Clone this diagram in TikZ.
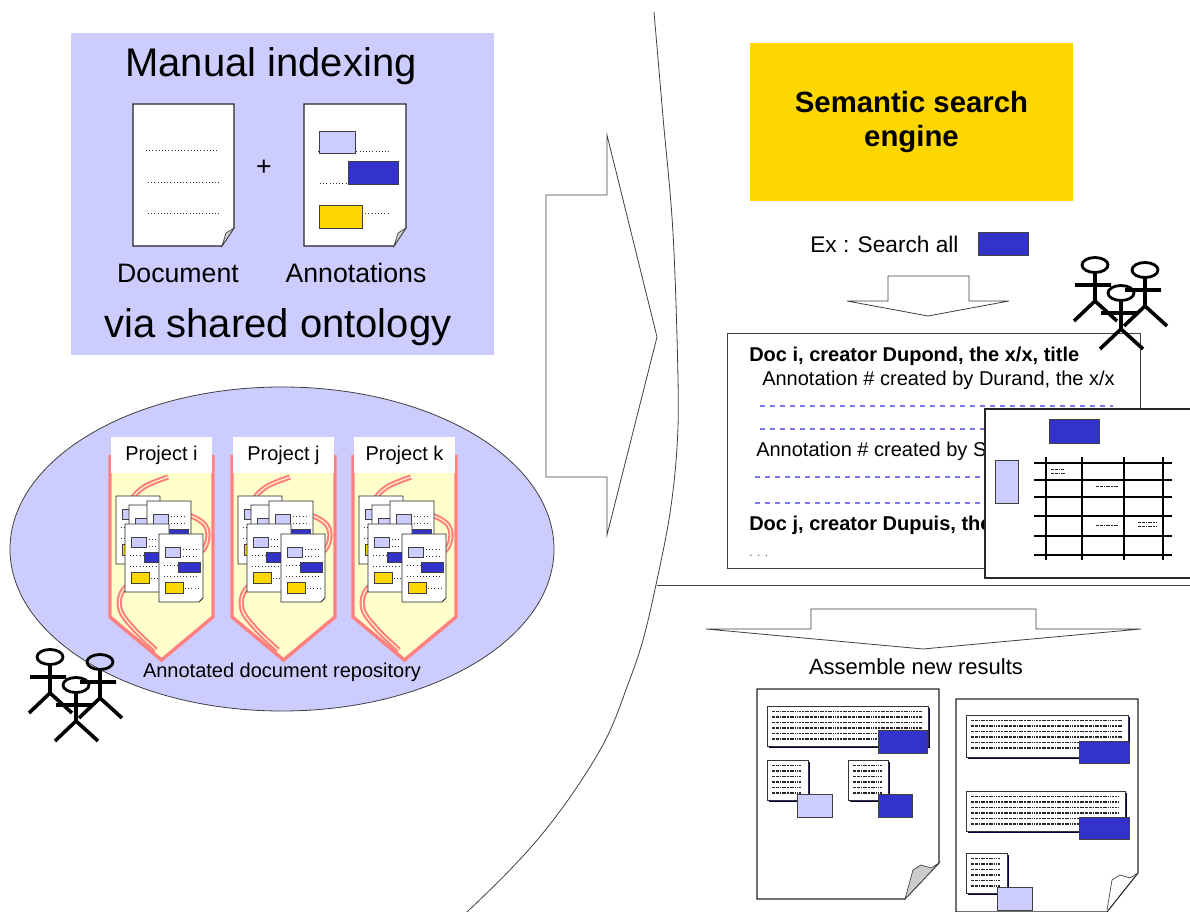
\documentclass[tikz,border=0pt]{standalone}
\usepackage{fontspec}
\setmainfont{Liberation Sans}

\definecolor{lavender}{HTML}{CCCCFF}
\definecolor{annoblue}{HTML}{3333CC}
\definecolor{annogold}{HTML}{FFD700}
\definecolor{bmyellow}{HTML}{FFFFCC}
\definecolor{salmon}{HTML}{FF8080}
\definecolor{dashblue}{HTML}{7777EE}
\definecolor{shadownavy}{HTML}{000044}

\tikzset{
  outline/.style={draw=black!75, line width=0.6pt},
  page/.style={fill=white, draw=black!85, line width=0.8pt},
  lavrect/.style={fill=lavender, draw=black!75, line width=0.6pt},
  bluerect/.style={fill=annoblue, draw=black!75, line width=0.6pt},
  goldrect/.style={fill=annogold, draw=black!75, line width=0.6pt},
  dotline/.style={dotted, line width=0.4pt, black!80},
  scribble/.style={black!85, line width=1.1pt, dash pattern=on 1.2pt off 0.6pt on 0.5pt off 0.6pt on 2pt off 0.8pt},
  stick/.style={black, line width=2.7pt},
  ribbon/.style={draw=salmon, double=bmyellow, double distance=0.8pt, line width=1.6pt},
  hitline/.style={dashblue, line width=0.8pt, dash pattern=on 4pt off 3.5pt},
  tabline/.style={black, line width=0.8pt},
  lbl/.style={inner sep=0pt, text=black},
}

% one stick figure, head centre at (#1,#2)
\newcommand{\stickman}[2]{%
  \begin{scope}[shift={(#1,#2)}]
    \draw[black, line width=2.1pt] (0,0) ellipse [x radius=13, y radius=7.5];
    \draw[stick] (0,7.5) -- (0,36) (-20,20) -- (16,20) (-21,56) -- (0,36) -- (22,56);
  \end{scope}}
\newcommand{\crowd}[2]{%
  \begin{scope}[shift={(#1,#2)}]
    \stickman{0}{0}\stickman{50}{5}\stickman{26}{28}
  \end{scope}}

% small annotated page, top left corner at (#1,#2)
\newcommand{\minidoc}[2]{%
  \begin{scope}[shift={(#1,#2)}]
    \draw[page, line width=0.6pt] (0,0) -- (44,0) -- (44,64) -- (40,68) -- (0,68) -- cycle;
    \draw[dotline] (24,15) -- (40,15) (24,22) -- (40,22) (5,31) -- (18,31) (5,42) -- (40,42) (26,54) -- (40,54);
    \draw[lavrect, line width=0.5pt] (6,13) rectangle (21,23);
    \draw[bluerect, line width=0.5pt] (19,28) rectangle (41,38);
    \draw[goldrect, line width=0.5pt] (6,48) rectangle (24,59);
  \end{scope}}

% project tab: left edge #1, label #2, node name #3
\newcommand{\projtab}[3]{%
  \begin{scope}[shift={(#1,437)}]
    \fill[bmyellow] (0,18) -- (0,180) -- (51.5,223) -- (103,180) -- (103,18) -- cycle;
    \draw[salmon, line width=2.6pt] (0,18) -- (0,180) -- (51.5,223) -- (103,180) -- (103,18);
    \draw[ribbon] plot[smooth, tension=0.6] coordinates {(58,40) (34,50) (22,64) (32,78) (70,76) (95,88)
      (96,108) (80,122) (40,135) (14,152) (10,172) (24,192) (46,213)};
    \fill[white] (1.3,0) rectangle (101.7,36);
    \node[lbl, font=\fontsize{15}{17}\selectfont] (#3) at (51.5,18) {#2};
    \minidoc{6}{59}\minidoc{19}{68}\minidoc{37}{64}\minidoc{15}{87}\minidoc{49}{97}
  \end{scope}}

% text block with shadow, corners (#1,#2) and (#3,#4)
\newcommand{\textblock}[4]{%
  \pgfmathsetmacro\bw{#3-#1}
  \begin{scope}[shift={(#1,#2)}]
    \draw[shadownavy, line width=1.6pt] (\bw+1,2) -- (\bw+1,{#4-#2+1}) -- (2,{#4-#2+1});
    \draw[fill=white, draw=black!80, line width=0.5pt] (0,0) rectangle (\bw,{#4-#2});
    \foreach \k in {1,...,6}
      \draw[scribble] (5,{5.5*\k}) -- ({\bw-6},{5.5*\k});
  \end{scope}}

\begin{document}
\begin{tikzpicture}[x=0.75pt, y=-0.75pt]
\useasboundingbox (0,0) rectangle (1190,912);
\fill[white] (0,0) rectangle (1190,912);

% manual indexing panel
\fill[lavender] (71,33) rectangle (494,355);
\node[lbl, font=\fontsize{30}{34}\selectfont] (indexing) at (271,66) {Manual indexing};
\draw[page] (133,104) -- (234,104) -- (234,228) -- (222,246) -- (133,246) -- cycle;
\filldraw[fill=black!20, draw=black!75, line width=0.5pt] (234,228) -- (226,233) -- (222,246) -- cycle;
\draw[dotline] (146,150) -- (219,150) (148,182) -- (219,182) (148,213) -- (219,213);
\node[lbl, font=\fontsize{20}{24}\selectfont] (plus) at (264,168) {+};
\draw[page] (304,104) -- (406,104) -- (406,228) -- (394,246) -- (304,246) -- cycle;
\filldraw[fill=black!20, draw=black!75, line width=0.5pt] (406,228) -- (398,233) -- (394,246) -- cycle;
\draw[dotline] (318,151) -- (390,151) (320,183) -- (348,183) (362,213) -- (390,213);
\draw[lavrect] (319,131) rectangle (355,153);
\draw[bluerect] (348,161) rectangle (398,184);
\draw[goldrect] (319,205) rectangle (362,228);
\node[lbl, font=\fontsize{20}{24}\selectfont] (document) at (178,273) {Document};
\node[lbl, font=\fontsize{20}{24}\selectfont] (annotations) at (356,273) {Annotations};
\node[lbl, font=\fontsize{30}{34}\selectfont] (ontology) at (278,327) {via shared ontology};

% repository
\draw[lavrect] (282,549) ellipse [x radius=272, y radius=162];
\projtab{110}{Project i}{proji}
\projtab{232}{Project j}{projj}
\projtab{353}{Project k}{projk}
\node[lbl, font=\fontsize{15}{17}\selectfont] (repository) at (282,672) {Annotated document repository};
\crowd{50}{657}

% big arrow and border arc
\draw[outline, fill=white] (546,195) -- (607,195) -- (607,135) -- (657,337) -- (607,535) -- (607,477) -- (546,477) -- cycle;
\draw[outline] plot[smooth, tension=0.6] coordinates {(654,12) (663,117) (673,233) (678,379) (677,447)
  (670,513) (657,580) (643,640) (627,687) (607,737) (577,787) (543,833) (507,873) (467,912)};

% search engine side
\node[fill=annogold, minimum width=242pt, minimum height=119pt, inner sep=0pt, align=center,
  font=\bfseries\fontsize{22}{25}\selectfont] (engine) at (911.5,122) {Semantic search\\engine};
\node[lbl, anchor=base west, font=\fontsize{17}{20}\selectfont] (query) at (810,253) {Ex : Search all};
\draw[bluerect] (978,232) rectangle (1028,255);
\draw[outline, fill=white] (888,276) -- (969,276) -- (969,301) -- (1009,301) -- (928,316) -- (847,301) -- (888,301) -- cycle;

\draw[outline, fill=white] (727,333) rectangle (1140,568);
\node[lbl, anchor=base west, font=\bfseries\fontsize{15}{17}\selectfont] (doci) at (749,362) {Doc i, creator Dupond, the x/x, title};
\node[lbl, anchor=base west, font=\fontsize{15}{17}\selectfont] (anni) at (762,386) {Annotation \# created by Durand, the x/x};
\draw[hitline] (760,406) -- (1113,406) (760,429) -- (1113,429);
\node[lbl, anchor=base west, font=\fontsize{15}{17}\selectfont] (annj) at (756,457) {Annotation \# created by S};
\draw[hitline] (755,477) -- (1000,477) (755,503) -- (1000,503);
\node[lbl, anchor=base west, font=\bfseries\fontsize{15}{17}\selectfont] (docj) at (749,531) {Doc j, creator Dupuis, the};
\node[lbl, anchor=base west, text=black!60, font=\fontsize{9}{10}\selectfont] (more) at (749,557) {. . .};

% table card
\draw[page] (985,409) rectangle (1200,578);
\draw[bluerect] (1049,419) rectangle (1099,443);
\draw[lavrect] (995,460) rectangle (1018,503);
\foreach \gx in {1046,1082,1124,1163}
  \draw[tabline] (\gx,457) -- (\gx,560);
\foreach \gy in {463,480,497,516,536,555}
  \draw[tabline] (1034,\gy) -- (1172,\gy);
\draw[scribble, line width=0.7pt] (1051,469) -- (1064,469) (1051,473) -- (1066,473) (1096,486) -- (1118,486)
  (1096,525) -- (1118,525) (1138,522) -- (1157,522) (1138,526) -- (1157,526);

\crowd{1095}{265}

\draw[outline] (657,585) -- (1190,585);
\draw[outline, fill=white] (811,609) -- (1036,609) -- (1036,629) -- (1141,629) -- (923,649) -- (706,629) -- (811,629) -- cycle;
\node[lbl, font=\fontsize{16.5}{19}\selectfont] (assemble) at (916,667) {Assemble new results};

% assembled result pages
\draw[page] (757,689) -- (939,689) -- (939,863) -- (905,899) -- (757,899) -- cycle;
\filldraw[fill=black!20, draw=black!75, line width=0.5pt] (939,863) -- (931,868) -- (921,865) -- (913,870) -- (905,899) -- cycle;
\textblock{767}{706}{928}{746}
\draw[bluerect] (878,730) rectangle (927,753);
\textblock{767}{760}{808}{800}
\draw[lavrect] (797,794) rectangle (832,817);
\textblock{848}{760}{888}{800}
\draw[bluerect] (878,794) rectangle (912,817);

\draw[page] (956,699) -- (1138,699) -- (1138,873) -- (1107,912) -- (956,912) -- cycle;
\draw[draw=black!75, line width=0.5pt] (1138,873) -- (1130,878) -- (1120,875) -- (1112,880) -- (1107,910);
\textblock{966}{715}{1128}{757}
\draw[bluerect] (1079,741) rectangle (1129,763);
\textblock{966}{791}{1125}{831}
\draw[bluerect] (1079,817) rectangle (1129,839);
\textblock{966}{853}{1007}{893}
\draw[lavrect] (997,887) rectangle (1032,910);
\end{tikzpicture}
\end{document}
